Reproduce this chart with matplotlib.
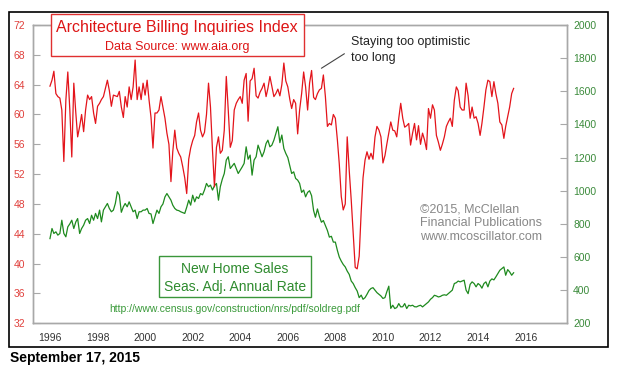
import numpy as np
import pandas as pd
import matplotlib
matplotlib.use('Agg')
import matplotlib.pyplot as plt
import matplotlib.dates as mdates
from matplotlib.patches import Rectangle

plt.rcParams['font.family'] = ['Liberation Sans', 'DejaVu Sans']

# Architecture Billing Index, monthly from Jan 1996
abi = [
    63.8, 64.6, 65.8, 62.8, 62.4, 62.2, 60.6, 53.7, 61.9, 65.7, 60.6, 54.3,
    64.2, 60.2, 57.0, 58.4, 60.0, 57.7, 60.6, 62.6, 62.0, 62.4, 60.2, 58.8,
    61.1, 61.5, 62.0, 62.4, 63.5, 64.6, 63.2, 61.1, 62.6, 62.5, 62.4, 63.1,
    61.0, 59.6, 62.4, 61.0, 63.7, 62.0, 63.7, 67.3, 62.0, 63.7, 62.0, 64.2,
    62.6, 64.6, 62.0, 59.6, 55.5, 60.2, 60.2, 60.6, 62.4, 61.0, 59.5, 57.5,
    56.0, 51.0, 55.0, 57.9, 55.5, 54.8, 54.3, 53.0, 51.5, 49.4, 54.0, 55.5,
    56.5, 57.2, 59.0, 60.2, 57.9, 57.0, 57.6, 60.0, 64.2, 61.0, 55.2, 50.3,
    55.6, 57.0, 54.8, 55.2, 57.9, 65.1, 60.6, 55.6, 56.5, 60.6, 61.5, 62.0,
    62.4, 61.5, 64.6, 65.5, 59.1, 64.5, 64.8, 66.2, 62.5, 62.2, 63.0, 63.5,
    64.2, 62.4, 63.5, 65.1, 63.8, 62.4, 62.8, 63.4, 62.5, 64.0, 66.9, 64.5,
    63.7, 62.0, 60.8, 62.0, 61.5, 57.4, 60.6, 62.8, 65.7, 63.7, 60.6, 64.2,
    65.9, 62.3, 62.0, 62.8, 63.3, 63.5, 65.3, 62.4, 58.4, 58.8, 58.6, 60.0,
    59.5, 56.6, 53.4, 49.0, 47.2, 48.0, 57.0, 52.5, 48.5, 44.0, 39.5, 39.3,
    41.0, 47.0, 51.5, 53.9, 55.0, 54.0, 54.8, 54.0, 57.0, 58.4, 57.9, 57.0,
    53.5, 54.5, 56.0, 57.5, 59.0, 57.9, 57.8, 57.0, 59.5, 61.5, 59.5, 58.3,
    58.5, 58.8, 55.9, 57.5, 58.8, 56.6, 58.5, 56.0, 57.5, 56.6, 55.3, 60.8,
    59.5, 61.3, 60.6, 57.2, 56.3, 55.2, 56.0, 57.0, 58.4, 59.0, 59.5, 58.4,
    61.9, 63.7, 63.2, 61.0, 60.6, 60.6, 64.2, 62.5, 59.5, 61.0, 59.5, 59.7,
    58.8, 57.2, 58.8, 61.0, 63.3, 64.6, 64.4, 62.4, 64.4, 62.8, 61.5, 59.0,
    58.6, 56.8, 58.4, 59.7, 61.0, 62.8, 63.5,
]

# New home sales, SAAR thousands, monthly from Jan 1996
sales = [
    711, 772, 742, 752, 732, 742, 822, 742, 722, 782, 800, 822,
    772, 812, 832, 742, 772, 792, 822, 832, 802, 852, 822, 863,
    832, 883, 812, 883, 903, 923, 893, 873, 883, 923, 994, 974,
    870, 903, 923, 903, 933, 903, 873, 883, 832, 873, 873, 883,
    883, 893, 863, 860, 802, 842, 883, 863, 903, 920, 963, 983,
    963, 943, 913, 893, 883, 880, 873, 868, 863, 900, 943, 913,
    973, 933, 963, 953, 983, 975, 1004, 1044, 1024, 1034, 1004, 1030,
    1044, 943, 1024, 1070, 1104, 1185, 1205, 1134, 1150, 1165, 1134, 1104,
    1124, 1144, 1165, 1265, 1190, 1215, 1094, 1185, 1205, 1275, 1240, 1205,
    1235, 1285, 1305, 1265, 1275, 1305, 1346, 1386, 1290, 1336, 1255, 1225,
    1200, 1150, 1104, 1114, 1074, 1064, 1044, 990, 1004, 963, 990, 1000,
    970, 880, 840, 890, 845, 810, 820, 790, 760, 720, 725, 690,
    690, 640, 600, 575, 555, 540, 515, 495, 455, 440, 415, 395,
    355, 370, 345, 355, 375, 398, 410, 415, 400, 385, 375, 365,
    350, 355, 390, 424, 290, 309, 289, 295, 319, 299, 300, 319,
    289, 309, 305, 309, 300, 299, 305, 309, 299, 309, 320, 329,
    345, 355, 369, 365, 359, 362, 369, 372, 369, 379, 389, 400,
    440, 445, 455, 450, 455, 460, 400, 379, 435, 450, 440, 420,
    440, 430, 412, 440, 450, 420, 455, 468, 462, 480, 500, 520,
    530, 540, 490, 524, 510, 490, 505,
]

left_ticks = list(range(32, 73, 4))
right_ticks = list(range(200, 2001, 200))
year_ticks = list(range(1996, 2017, 2))

months = pd.date_range('1996-01-01', periods=len(abi), freq='MS')

W, H = 630, 371


def fp(x, y):
    # pixel position (from top-left) to figure fraction
    return x / W, 1 - y / H


fig = plt.figure(figsize=(6.3, 3.71), dpi=100)
fig.patch.set_facecolor('white')

ax = fig.add_axes([33.3 / W, 1 - 323.3 / H, (566.5 - 33.3) / W, (323.3 - 25) / H])
ax2 = ax.twinx()

ax2.plot(months, sales, color='#1e8a1e', lw=0.9)
ax.plot(months, abi, color='#e3141b', lw=0.9)
ax.set_zorder(ax2.get_zorder() + 1)
ax.patch.set_visible(False)

ax.set_xlim(pd.Timestamp('1995-04-20'), pd.Timestamp('2017-09-20'))
ax.set_ylim(32, 72)
ax.set_yticks(left_ticks)
ax2.set_ylim(200, 2000)
ax2.set_yticks(right_ticks)
ax.set_xticks([pd.Timestamp(f'{y}-01-01') for y in year_ticks])
ax.xaxis.set_major_formatter(mdates.DateFormatter('%Y'))

for a in (ax, ax2):
    for s in a.spines.values():
        s.set_color('#a8a8a8')
        s.set_linewidth(1)

ax.tick_params(axis='y', direction='in', length=5, width=0.8, color='#a8a8a8',
               labelcolor='#e0403c', labelsize=7.5, pad=6)
ax.tick_params(axis='x', length=0, labelsize=7.5, labelcolor='#333333', pad=7)
ax2.tick_params(axis='y', direction='in', length=4.7, width=0.8, color='#a8a8a8',
                labelcolor='#3a8a3a', labelsize=7.5, pad=4.7)

# outer frame
x0, y0 = fp(9.3, 346.7)
fig.add_artist(Rectangle((x0, y0), (608.3 - 9.3) / W, (346.7 - 11.7) / H,
                         transform=fig.transFigure, fill=False, ec='black', lw=1.2))

# title box
x0, y0 = fp(50.7, 56)
fig.add_artist(Rectangle((x0, y0), 253.3 / W, 42 / H, transform=fig.transFigure,
                         fc='white', ec='#e03030', lw=1, zorder=5))
fig.text(*fp(177.3, 32.3), 'Architecture Billing Inquiries Index', color='#dd1515',
         fontsize=11.5, ha='center', va='baseline', zorder=6)
fig.text(*fp(177.3, 50), 'Data Source: www.aia.org', color='#dd1515',
         fontsize=9, ha='center', va='baseline', zorder=6)

# annotation
ax.annotate('Staying too optimistic\ntoo long', xy=(pd.Timestamp('2007-06-01'), 66.2),
            xytext=fp(350.7, 35.5), textcoords='figure fraction',
            ha='left', va='top', fontsize=9, color='#222222', linespacing=1.5,
            arrowprops=dict(arrowstyle='-', color='#444444', lw=0.8,
                            relpos=(0, 0.5), shrinkA=3, shrinkB=0))

# copyright
for i, line in enumerate(['\u00a92015, McClellan', 'Financial Publications',
                          'www.mcoscillator.com']):
    fig.text(*fp(420, 212.3 + i * 14), line, color='#888888', fontsize=9,
             ha='left', va='baseline')

# home sales box
x0, y0 = fp(159.3, 296.7)
fig.add_artist(Rectangle((x0, y0), 151.7 / W, 40.7 / H, transform=fig.transFigure,
                         fc='white', ec='#3a963a', lw=1, zorder=5))
fig.text(*fp(235, 272.7), 'New Home Sales', color='#2e8b2e', fontsize=10,
         ha='center', va='baseline', zorder=6)
fig.text(*fp(235, 290.7), 'Seas. Adj. Annual Rate', color='#2e8b2e', fontsize=10,
         ha='center', va='baseline', zorder=6)
fig.text(*fp(109, 312), 'http://www.census.gov/construction/nrs/pdf/soldreg.pdf',
         color='#3a9a3a', fontsize=7.5, ha='left', va='baseline')

fig.text(*fp(9.5, 361.7), 'September 17, 2015', fontsize=10, fontweight='bold',
         color='black', ha='left', va='baseline')

fig.savefig('out.png', dpi=100)
